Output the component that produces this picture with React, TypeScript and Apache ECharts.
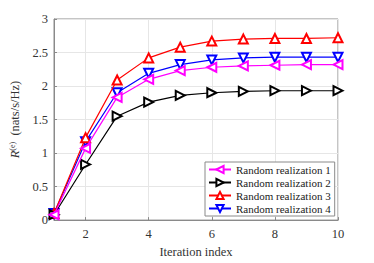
import React, { useEffect, useRef } from "react";
import * as echarts from "echarts";

const iterations = [1, 2, 3, 4, 5, 6, 7, 8, 9, 10];
const seriesNames = ["Random realization 1", "Random realization 2", "Random realization 3", "Random realization 4"];
const real1 = [0.08, 1.07, 1.83, 2.1, 2.23, 2.28, 2.3, 2.31, 2.32, 2.32];
const real2 = [0.08, 0.83, 1.55, 1.76, 1.86, 1.9, 1.92, 1.93, 1.93, 1.93];
const real3 = [0.1, 1.23, 2.09, 2.42, 2.58, 2.67, 2.7, 2.71, 2.71, 2.72];
const real4 = [0.1, 1.17, 1.9, 2.19, 2.32, 2.39, 2.42, 2.43, 2.43, 2.43];
const xTicks = [2, 4, 6, 8, 10];
const colors = ["#ff00ff", "#000000", "#ff0000", "#0000ff"];
const rotations = [90, -90, 0, 180];

export default function App() {
  const ref = useRef<HTMLDivElement>(null);
  useEffect(() => {
    const chart = echarts.init(ref.current!, null, { renderer: "svg" });
    const data = [real1, real2, real3, real4];
    const font = "'Liberation Serif', 'Times New Roman', serif";
    chart.setOption({
      animation: false,
      backgroundColor: "#ffffff",
      textStyle: { fontFamily: font },
      grid: {
        left: 48, right: 36, top: 19, bottom: 36,
        show: true, borderColor: "#8a8a8a", borderWidth: 1,
      },
      legend: {
        orient: "vertical",
        left: 205, top: 162,
        itemWidth: 22, itemHeight: 9, itemGap: 2,
        padding: [2, 4, 2, 3],
        borderColor: "#8a8a8a", borderWidth: 1,
        backgroundColor: "#ffffff",
        textStyle: { fontFamily: font, fontSize: 11, color: "#222" },
        data: seriesNames,
      },
      xAxis: {
        type: "value", min: 1, max: 10,
        name: "Iteration index", nameLocation: "middle", nameGap: 22,
        nameTextStyle: { fontFamily: font, fontSize: 12.5, color: "#333" },
        axisLine: { lineStyle: { color: "#8a8a8a" } },
        axisTick: { inside: true, length: 3, customValues: xTicks, lineStyle: { color: "#8a8a8a" } },
        axisLabel: { customValues: xTicks, fontFamily: font, fontSize: 12.5, color: "#333", margin: 7 },
        splitLine: { show: true, lineStyle: { color: "#e6e6e6" } },
      },
      yAxis: {
        type: "value", min: 0, max: 3, interval: 0.5,
        name: "{i|R}{s|(e)}  (nats/s/Hz)", nameLocation: "middle", nameGap: 24,
        nameTextStyle: {
          fontFamily: font, fontSize: 12.5, color: "#333",
          rich: {
            i: { fontFamily: font, fontStyle: "italic", fontSize: 12.5, color: "#333" },
            s: { fontFamily: font, fontSize: 8, color: "#333", verticalAlign: "top", padding: [0, 0, 6, 0] },
          },
        },
        axisLine: { show: true, lineStyle: { color: "#8a8a8a" } },
        axisTick: { show: true, inside: true, length: 3, lineStyle: { color: "#8a8a8a" } },
        axisLabel: { fontFamily: font, fontSize: 12.5, color: "#333", margin: 6 },
        splitLine: { show: true, lineStyle: { color: "#e6e6e6" } },
      },
      series: data.map((d, k) => ({
        name: seriesNames[k],
        type: "line",
        data: d.map((v, i) => [iterations[i], v]),
        symbol: "emptyTriangle",
        symbolSize: 9,
        symbolRotate: rotations[k],
        lineStyle: { color: colors[k], width: 1.2 },
        itemStyle: { color: colors[k], borderColor: colors[k], borderWidth: 1.2 },
        z: 10 - k,
      })),
    });
    return () => chart.dispose();
  }, []);
  return <div ref={ref} style={{ position: "absolute", left: 0, top: 0, width: 374, height: 263 }} />;
}
